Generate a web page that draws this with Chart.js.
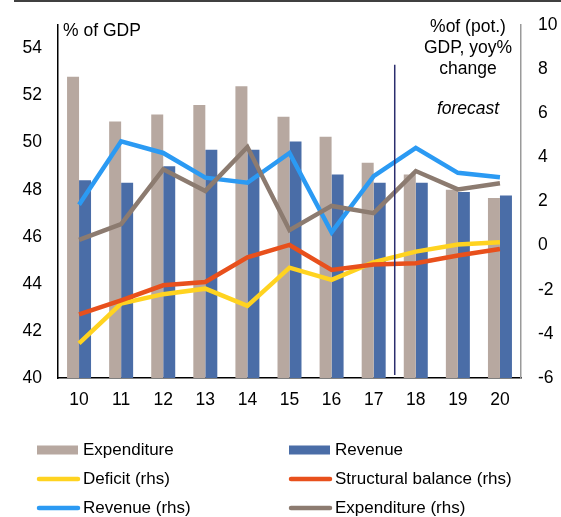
<!DOCTYPE html>
<html>
<head>
<meta charset="utf-8">
<script src="https://cdn.jsdelivr.net/npm/chart.js@4.4.1/dist/chart.umd.min.js"></script>
<style>
  html, body { margin: 0; padding: 0; background: #fff; }
</style>
</head>
<body>
<canvas id="chart" width="561" height="517"></canvas>
<script>
// data
const years = ['10', '11', '12', '13', '14', '15', '16', '17', '18', '19', '20'];
const expenditurePct = [52.8, 50.9, 51.2, 51.6, 52.4, 51.1, 50.25, 49.15, 48.65, 48.0, 47.65];
const revenuePct = [48.4, 48.3, 49.0, 49.7, 49.7, 50.05, 48.65, 48.3, 48.3, 47.9, 47.75];
const deficitRhs = [-4.43, -2.63, -2.2, -1.95, -2.73, -1.0, -1.55, -0.75, -0.27, 0.05, 0.15];
const structuralRhs = [-3.12, -2.48, -1.8, -1.65, -0.53, 0.03, -1.1, -0.86, -0.8, -0.45, -0.15];
const revenueRhs = [1.85, 4.73, 4.2, 3.08, 2.85, 4.2, 0.6, 3.15, 4.43, 3.3, 3.1];
const expenditureRhs = [0.26, 0.98, 3.46, 2.48, 4.47, 0.7, 1.8, 1.47, 3.38, 2.55, 2.83];
const leftTicks = [40, 42, 44, 46, 48, 50, 52, 54];
const rightTicks = [-6, -4, -2, 0, 2, 4, 6, 8, 10];
const forecastAfter = 7; // line sits between '17' and '18'

const FONT = "'Liberation Sans', Arial, sans-serif";
Chart.defaults.font.family = FONT;
Chart.defaults.font.size = 17;
Chart.defaults.color = '#000';

const lineDs = (label, data, color, order) => ({
    type: 'line',
    label: label,
    data: data,
    yAxisID: 'y2',
    borderColor: color,
    backgroundColor: color,
    borderWidth: 4.5,
    pointRadius: 0,
    tension: 0,
    fill: false,
    order: order
});

// texts, forecast marker, legend
const extras = {
    id: 'extras',
    afterDatasetsDraw(chart) {
        const ctx = chart.ctx;
        const area = chart.chartArea;
        const x = chart.scales.x;
        const y2 = chart.scales.y2;

        ctx.save();
        const fx = (x.getPixelForValue(forecastAfter) + x.getPixelForValue(forecastAfter + 1)) / 2;
        ctx.strokeStyle = '#2b2d6e';
        ctx.lineWidth = 1.5;
        ctx.beginPath();
        ctx.moveTo(fx, y2.getPixelForValue(8.2));
        ctx.lineTo(fx, area.bottom - 3);
        ctx.stroke();
        ctx.restore();
    },
    afterDraw(chart) {
        const ctx = chart.ctx;
        const area = chart.chartArea;
        ctx.save();

        // frame line at the very top
        ctx.strokeStyle = '#000';
        ctx.lineWidth = 1.5;
        ctx.beginPath();
        ctx.moveTo(14, 1);
        ctx.lineTo(chart.width, 1);
        ctx.stroke();

        ctx.fillStyle = '#000';
        ctx.textBaseline = 'middle';
        ctx.font = '17.5px ' + FONT;
        ctx.textAlign = 'left';
        ctx.fillText('% of GDP', area.left + 5, area.top + 6);

        const cx = area.right - 53;
        ctx.textAlign = 'center';
        ctx.fillText('%of (pot.)', cx, area.top + 2);
        ctx.fillText('GDP, yoy%', cx, area.top + 23);
        ctx.fillText('change', cx, area.top + 44);
        ctx.font = 'italic 17.5px ' + FONT;
        ctx.fillText('forecast', cx, area.top + 84);

        // legend, two columns
        const colX = [37, 289];
        const rowY = [450, 479, 508];
        ctx.font = '17px ' + FONT;
        ctx.textAlign = 'left';
        chart.data.datasets.forEach((ds, i) => {
            const lx = colX[i % 2];
            const ly = rowY[Math.floor(i / 2)];
            if (ds.type === 'line') {
                ctx.strokeStyle = ds.borderColor;
                ctx.lineWidth = 4.5;
                ctx.lineCap = 'round';
                ctx.beginPath();
                ctx.moveTo(lx + 2, ly);
                ctx.lineTo(lx + 41, ly);
                ctx.stroke();
            } else {
                ctx.fillStyle = ds.backgroundColor;
                ctx.fillRect(lx, ly - 4.5, 41, 9);
            }
            ctx.fillStyle = '#000';
            ctx.fillText(ds.label, lx + 46, ly);
        });
        ctx.restore();
    }
};

new Chart(document.getElementById('chart').getContext('2d'), {
    type: 'bar',
    data: {
        labels: years,
        datasets: [
            {
                label: 'Expenditure',
                data: expenditurePct,
                yAxisID: 'y',
                backgroundColor: '#b7a8a0',
                barPercentage: 1,
                categoryPercentage: 0.57,
                order: 5
            },
            {
                label: 'Revenue',
                data: revenuePct,
                yAxisID: 'y',
                backgroundColor: '#4a6da7',
                barPercentage: 1,
                categoryPercentage: 0.57,
                order: 6
            },
            lineDs('Deficit (rhs)', deficitRhs, '#ffd320', 4),
            lineDs('Structural balance (rhs)', structuralRhs, '#e8501c', 3),
            lineDs('Revenue (rhs)', revenueRhs, '#2b9af3', 2),
            lineDs('Expenditure (rhs)', expenditureRhs, '#8c7b70', 1)
        ]
    },
    options: {
        responsive: false,
        animation: false,
        layout: { padding: { top: 25, left: 0, right: 0, bottom: 0 } },
        plugins: {
            legend: { display: false },
            tooltip: { enabled: false }
        },
        scales: {
            x: {
                position: 'bottom',
                grid: { display: false },
                border: { display: true, color: '#000', width: 1.5 },
                ticks: { padding: 4, font: { size: 17.5 } },
                afterFit: (s) => { s.height = 139; }
            },
            y: {
                position: 'left',
                min: 40,
                max: 55,
                grid: { display: false },
                border: { display: true, color: '#000', width: 1.5 },
                ticks: { padding: 8, font: { size: 17.5 } },
                afterBuildTicks: (s) => { s.ticks = leftTicks.map(v => ({ value: v })); },
                afterFit: (s) => { s.width = 58; }
            },
            y2: {
                position: 'right',
                min: -6,
                max: 10,
                grid: { display: false },
                border: { display: true, color: '#9a9a9a', width: 1.5 },
                ticks: { padding: 9, font: { size: 17.5 } },
                afterBuildTicks: (s) => { s.ticks = rightTicks.map(v => ({ value: v })); },
                afterFit: (s) => { s.width = 40; }
            }
        }
    },
    plugins: [extras]
});
</script>
</body>
</html>
